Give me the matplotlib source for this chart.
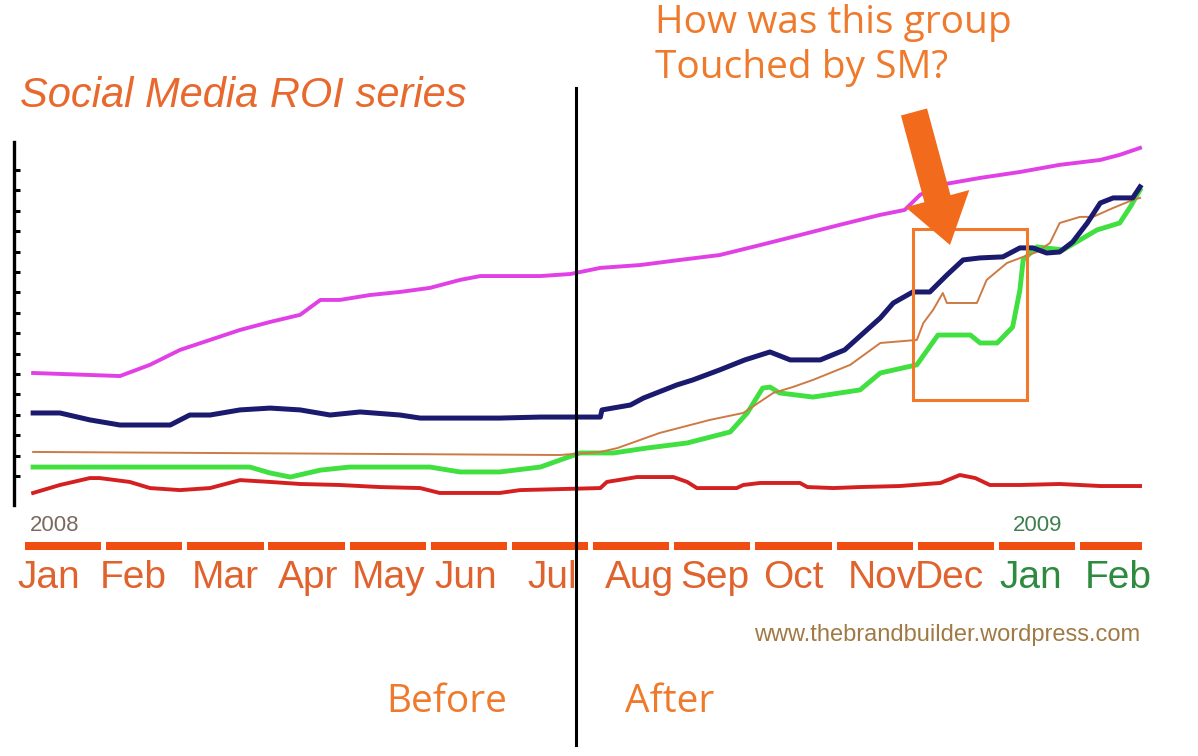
import numpy as np
import matplotlib.pyplot as plt
import matplotlib.transforms as mtransforms
from matplotlib.patches import FancyArrow, Rectangle
from matplotlib.lines import Line2D

# Data: x in months since Jan 2008, y in tick units (axis has no labels)
mag_x = [0.10, 1.17, 1.54, 1.91, 2.28, 2.65, 3.02, 3.39, 3.64, 3.88, 4.25, 4.62, 4.99, 5.36, 5.61,
         6.35, 6.72, 7.09, 7.58, 8.07, 8.56, 9.06, 9.55, 10.04, 10.54, 10.84, 11.03, 11.28, 11.77,
         12.26, 12.75, 13.25, 13.49, 13.74]
mag_y = [6.05, 5.90, 6.45, 7.18, 7.67, 8.16, 8.55, 8.90, 9.63, 9.63, 9.87, 10.02, 10.22, 10.61, 10.80,
         10.80, 10.90, 11.20, 11.34, 11.59, 11.83, 12.32, 12.81, 13.31, 13.80, 14.04, 14.78, 15.27, 15.61,
         15.90, 16.25, 16.49, 16.74, 17.08]

navy_x = [0.10, 0.43, 0.80, 1.17, 1.79, 2.03, 2.28, 2.65, 3.02, 3.39, 3.76, 4.13, 4.62, 4.87, 5.85,
          6.35, 7.09, 7.11, 7.46, 7.62, 8.03, 8.23, 8.56, 8.87, 9.18, 9.43, 9.80, 10.10, 10.54, 10.70,
          10.94, 11.15, 11.36, 11.56, 11.77, 12.05, 12.26, 12.42, 12.59, 12.75, 12.91, 13.09, 13.25,
          13.41, 13.65, 13.74]
navy_y = [4.09, 4.09, 3.75, 3.50, 3.50, 3.99, 3.99, 4.24, 4.33, 4.24, 3.99, 4.14, 3.99, 3.84, 3.84,
          3.89, 3.89, 4.24, 4.48, 4.82, 5.46, 5.71, 6.20, 6.69, 7.08, 6.69, 6.69, 7.18, 8.75, 9.48,
          10.02, 10.02, 10.85, 11.59, 11.69, 11.74, 12.18, 12.18, 11.93, 11.98, 12.47, 13.40, 14.38,
          14.63, 14.63, 15.17]

brown_x = [0.10, 6.59, 7.09, 7.30, 7.82, 8.44, 8.85, 9.22, 9.46, 9.71, 10.17, 10.54, 10.99, 11.07,
           11.19, 11.31, 11.36, 11.73, 11.85, 12.10, 12.30, 12.47, 12.63, 12.75, 13.00, 13.16, 13.41,
           13.65, 13.74]
brown_y = [2.18, 2.03, 2.18, 2.37, 3.11, 3.75, 4.09, 5.07, 5.36, 5.71, 6.45, 7.52, 7.67, 8.50,
           9.14, 9.97, 9.48, 9.48, 10.61, 11.44, 11.74, 11.98, 12.42, 13.40, 13.70, 13.70, 14.14,
           14.53, 14.63]

green_x = [0.10, 2.77, 3.02, 3.27, 3.64, 4.00, 4.99, 5.36, 5.85, 6.35, 6.59, 6.84, 7.25, 7.66, 8.16,
           8.69, 8.90, 9.09, 9.18, 9.30, 9.71, 10.29, 10.54, 10.99, 11.25, 11.65, 11.77, 11.98, 12.17,
           12.26, 12.30, 12.47, 12.79, 13.00, 13.21, 13.49, 13.62, 13.74]
green_y = [1.44, 1.44, 1.15, 0.95, 1.29, 1.44, 1.44, 1.20, 1.20, 1.44, 1.78, 2.13, 2.13, 2.37, 2.62,
           3.16, 4.09, 5.31, 5.36, 5.07, 4.87, 5.22, 6.05, 6.45, 7.91, 7.91, 7.52, 7.52, 8.30,
           10.12, 11.59, 12.23, 12.08, 12.57, 13.06, 13.40, 14.19, 15.02]

red_x = [0.10, 0.43, 0.80, 0.92, 1.29, 1.54, 1.91, 2.28, 2.65, 3.02, 3.39, 3.88, 4.37, 4.87, 5.11,
         5.85, 6.10, 7.09, 7.17, 7.54, 7.99, 8.16, 8.28, 8.77, 8.85, 9.06, 9.55, 9.64, 9.96, 10.29,
         10.78, 11.28, 11.52, 11.71, 11.89, 12.26, 12.75, 13.25, 13.74]
red_y = [0.17, 0.56, 0.90, 0.90, 0.71, 0.41, 0.31, 0.41, 0.80, 0.71, 0.61, 0.56, 0.46, 0.41, 0.17,
         0.17, 0.31, 0.41, 0.71, 0.95, 0.95, 0.71, 0.41, 0.41, 0.56, 0.66, 0.66, 0.46, 0.41, 0.46,
         0.51, 0.66, 1.05, 0.90, 0.56, 0.56, 0.61, 0.51, 0.51]

months = ['Jan', 'Feb', 'Mar', 'Apr', 'May', 'Jun', 'Jul', 'Aug', 'Sep', 'Oct', 'Nov', 'Dec', 'Jan', 'Feb']
label_x = [-0.09, 0.92, 2.06, 3.12, 4.03, 5.05, 6.19, 7.15, 8.07, 9.09, 10.14, 10.97, 12.01, 13.06]
timeline_end = 13.76
ticks = np.arange(1, 17)

W, H = 1198, 756
fig = plt.figure(figsize=(W / 100, H / 100), dpi=100)
fig.patch.set_facecolor('white')

# main plot
ax = fig.add_axes([14 / W, 1 - 505 / H, (1150 - 14) / W, (505 - 142) / H])
ax.set_xlim(-0.1356, 13.863)
ax.set_ylim(-0.42, 17.37)
ax.plot(mag_x, mag_y, color='#e040e6', lw=2.8, zorder=3)
ax.plot(red_x, red_y, color='#d42020', lw=2.8, zorder=3)
ax.plot(green_x, green_y, color='#3fe03f', lw=3.5, zorder=4)
ax.plot(brown_x, brown_y, color='#cd7a45', lw=1.4, zorder=5)
ax.plot(navy_x, navy_y, color='#1a1a6e', lw=3.6, zorder=6)
for s in ['top', 'right', 'bottom']:
    ax.spines[s].set_visible(False)
ax.spines['left'].set_linewidth(2.4)
ax.set_yticks(ticks)
ax.set_yticklabels([])
ax.set_xticks([])
ax.tick_params(axis='y', direction='in', length=4.5, width=2.2)
ax.patch.set_alpha(0)

# overlay in pixel units
ov = fig.add_axes([0, 0, 1, 1], zorder=10)
ov.set_xlim(0, W)
ov.set_ylim(H, 0)
ov.axis('off')
ov.patch.set_alpha(0)
blend = mtransforms.blended_transform_factory(ax.transData, ov.transData)

# timeline bar and month labels
segs = [(m, min(0.94, timeline_end - m)) for m in range(len(months))]
ov.broken_barh(segs, (542, 8), facecolor='#f04d12', transform=blend)
for i, (lab, lx) in enumerate(zip(months, label_x)):
    col = '#2d8a3e' if i >= 12 else '#e0622d'
    ov.text(lx, 588, lab, transform=blend, ha='left', va='baseline', fontsize=28,
            color=col, family='Liberation Sans')
ov.text(0.06, 531, '2008', transform=blend, fontsize=16, color='#7a6a60',
        family='Liberation Sans', va='baseline')
ov.text(12.17, 531, '2009', transform=blend, fontsize=16, color='#3f7f50',
        family='Liberation Sans', va='baseline')

ov.text(1140, 641, 'www.thebrandbuilder.wordpress.com', ha='right', va='baseline',
        fontsize=17, color='#a07a45', family='Liberation Sans')
ov.text(20, 107, 'Social Media ROI series', ha='left', va='baseline', fontsize=30,
        color='#e8692e', style='italic', family='Liberation Sans')

# annotation
ov.add_line(Line2D([576, 576], [88, 745], color='black', lw=2.2))
ov.add_patch(Rectangle((913, 229), 114, 171, fill=False, edgecolor='#f07a2a', lw=2.2))
ov.add_patch(FancyArrow(914, 112, 36, 133, width=27, head_width=66, head_length=48,
                        length_includes_head=True, color='#f26a1b', lw=0))
orange = '#ef7a2c'
ov.text(655, 33, 'How was this group', fontsize=28, color=orange, family='Open Sans', va='baseline')
ov.text(655, 78, 'Touched by SM?', fontsize=28, color=orange, family='Open Sans', va='baseline')
ov.text(386, 712, 'Before', fontsize=28, color=orange, family='Open Sans', va='baseline')
ov.text(625, 712, 'After', fontsize=28, color=orange, family='Open Sans', va='baseline')

fig.savefig('out.png', dpi=100)
